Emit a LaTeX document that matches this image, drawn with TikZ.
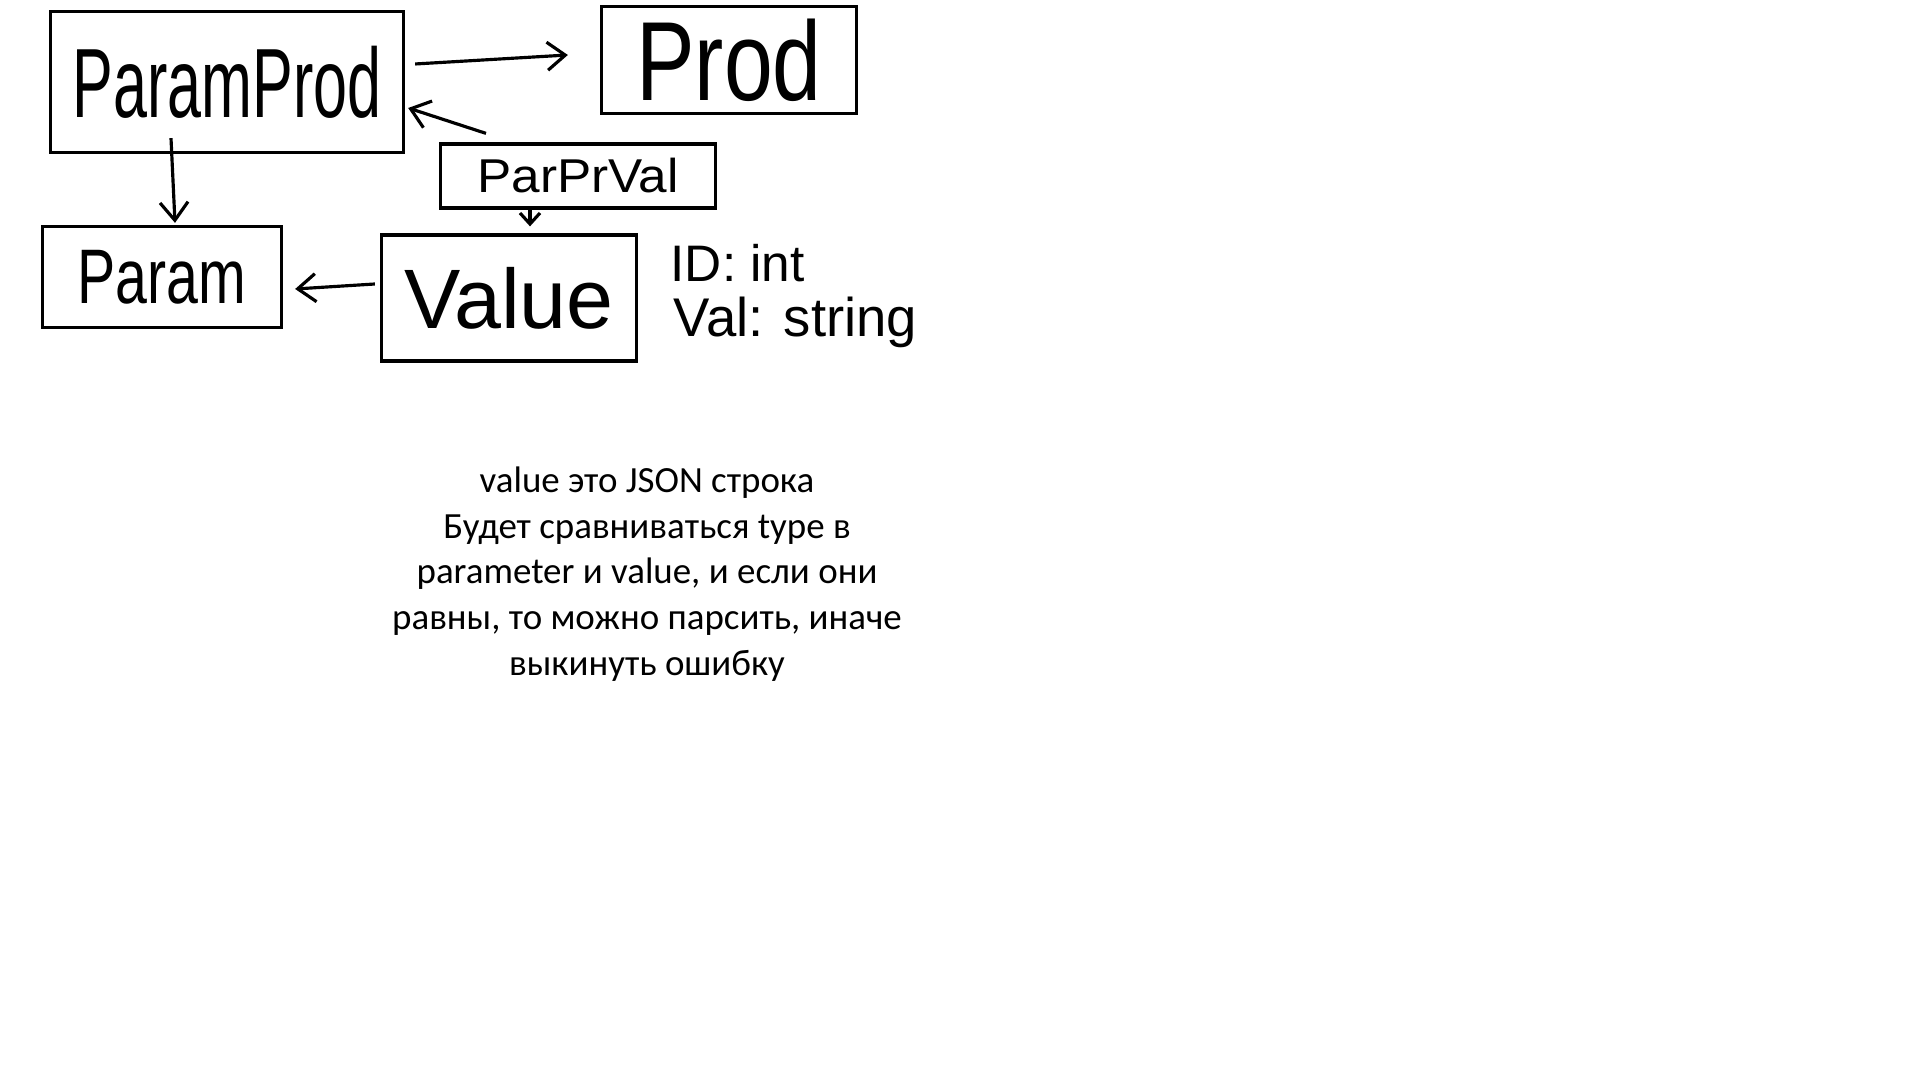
\documentclass[tikz,border=0pt]{standalone}
\usepackage{fontspec}
\setmainfont{Carlito}
\newfontfamily\handfont{Liberation Sans}
\usetikzlibrary{arrows.meta,calc}
\tikzset{
  box/.style={draw, line width=0.9pt, inner sep=0pt, font=\handfont},
  arr/.style={line width=0.9pt, -{Straight Barb[length=1.8mm,width=2.8mm]}},
  shortarr/.style={line width=0.9pt, -{Straight Barb[length=1.1mm,width=2mm]}},
  lbl/.style={font=\handfont, inner sep=0pt, anchor=west},
}
\begin{document}
\begin{tikzpicture}[x={(0.01cm,0)}, y={(0,-0.01cm)}]
\useasboundingbox[fill=white] (0,0) rectangle (1920,1080);
\node[box, minimum width=3.53cm, minimum height=1.41cm] (pp) at (227,82)
  {\fontsize{28}{30}\selectfont\scalebox{0.62}[1]{ParamProd}};
\node[box, minimum width=2.55cm, minimum height=1.07cm] (prod) at (729,60)
  {\fontsize{32}{34}\selectfont\scalebox{0.78}[1]{Prod}};
\node[box, minimum width=2.75cm, minimum height=0.64cm] (ppv) at (578,176)
  {\fontsize{13.5}{15}\selectfont\scalebox{1.08}[1]{ParPrVal}};
\node[box, minimum width=2.39cm, minimum height=1.01cm] (param) at (162,277)
  {\fontsize{22}{24}\selectfont\scalebox{0.74}[1]{Param}};
\node[box, minimum width=2.55cm, minimum height=1.26cm] (value) at (509,298)
  {\fontsize{24}{26}\selectfont Value};
\node[lbl] (idl) at (670,263) {\fontsize{14.6}{16}\selectfont ID: int};
\node[lbl] (vall) at (673,322) {\fontsize{15.5}{17}\selectfont Val: string};

\draw[arr] ($(pp.east)+(10,-18)$) -- ($(prod.west)+(-32,-5)$);
\draw[arr] ($(ppv.north)+(-92,-9)$) -- ($(pp.east)+(3,26)$);
\draw[shortarr] ($(ppv.south)+(-48,0)$) -- ($(value.north)+(21,-7)$);
\draw[arr] ($(pp.south)+(-56,-16)$) -- ($(param.north)+(13,-2)$);
\draw[arr] ($(value.west)+(-5,-14)$) -- ($(param.east)+(12,12)$);

\node[align=center, inner sep=0pt, font=\fontsize{10.5}{12.97}\selectfont] (note) at (647,574)
  {value это JSON строка\\Будет сравниваться type в\\parameter и value, и если они\\равны, то можно парсить, иначе\\выкинуть ошибку};
\end{tikzpicture}
\end{document}
